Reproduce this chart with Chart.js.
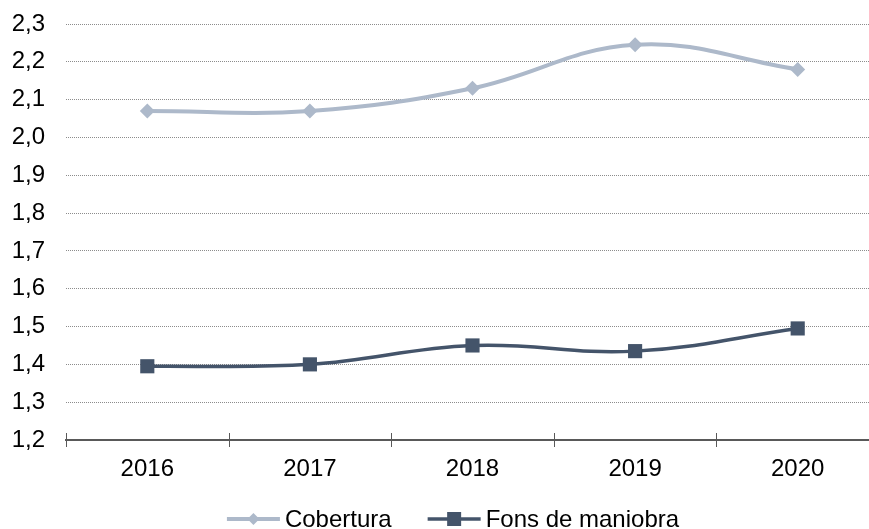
<!DOCTYPE html>
<html>
<head>
<meta charset="utf-8">
<script src="https://cdn.jsdelivr.net/npm/chart.js@4/dist/chart.umd.min.js"></script>
<style>
  html, body { margin:0; padding:0; background:#fff; overflow:hidden; }
  #wrap { position:absolute; left:0; top:0; width:889px; height:540px; }
</style>
</head>
<body>
<div id="wrap"><canvas id="chart"></canvas></div>
<script>
const YEARS = ["2016","2017","2018","2019","2020"];
const COBERTURA = [2.07, 2.07, 2.13, 2.245, 2.18];
const FONS = [1.395, 1.40, 1.45, 1.435, 1.495];
const Y_MIN = 1.2, Y_MAX = 2.3, Y_STEP = 0.1;

const FONT = "'Liberation Sans', Arial, sans-serif";
const FONT_SIZE = 24;
const C_LIGHT = "#ADB9CA";
const C_DARK = "#44546A";

// marcas del eje X que cruzan la línea
const axisTicks = {
  id:'axisTicks',
  afterDraw(chart){
    const x = chart.scales.x, a = chart.chartArea, ctx = chart.ctx;
    ctx.save();
    ctx.strokeStyle = '#595959'; ctx.lineWidth = 1;
    for(let i = 0; i <= YEARS.length; i++){
      let px;
      if(i === 0) px = a.left;
      else if(i === YEARS.length) px = a.right;
      else px = (x.getPixelForValue(i-1) + x.getPixelForValue(i)) / 2;
      px = Math.round(px) + 0.5;
      ctx.beginPath(); ctx.moveTo(px, a.bottom - 7); ctx.lineTo(px, a.bottom + 7); ctx.stroke();
    }
    ctx.restore();
  }
};

// leyenda inferior: línea con marcador + texto
const bottomLegend = {
  id:'bottomLegend',
  afterDraw(chart){
    const ctx = chart.ctx;
    const sw = 53, gap = 5, itemGap = 36, cy = 519, cx = 453;
    ctx.save();
    ctx.font = `${FONT_SIZE}px ${FONT}`;
    const items = chart.data.datasets.map(d => ({ d, tw: ctx.measureText(d.label).width }));
    const total = items.reduce((s,it)=>s + sw + gap + it.tw, 0) + itemGap * (items.length - 1);
    let x = cx - total / 2;
    items.forEach(({d, tw}) => {
      ctx.strokeStyle = d.borderColor; ctx.lineWidth = d.borderWidth;
      ctx.beginPath(); ctx.moveTo(x, cy); ctx.lineTo(x + sw, cy); ctx.stroke();
      ctx.fillStyle = d.borderColor;
      const mx = x + sw / 2;
      ctx.beginPath();
      if(d.pointStyle === 'rectRot'){
        ctx.moveTo(mx, cy - 6); ctx.lineTo(mx + 6, cy); ctx.lineTo(mx, cy + 6); ctx.lineTo(mx - 6, cy);
      } else {
        ctx.rect(mx - 7, cy - 7, 14, 14);
      }
      ctx.fill();
      ctx.fillStyle = '#000'; ctx.textBaseline = 'middle'; ctx.textAlign = 'left';
      ctx.fillText(d.label, x + sw + gap, cy + 1);
      x += sw + gap + tw + itemGap;
    });
    ctx.restore();
  }
};

new Chart(document.getElementById('chart'), {
  type:'line',
  data:{
    labels: YEARS,
    datasets:[
      {
        label:'Cobertura', data: COBERTURA,
        borderColor:C_LIGHT, backgroundColor:C_LIGHT,
        borderWidth:4, tension:0.4,
        pointStyle:'rectRot', pointRadius:7.5, pointHoverRadius:7.5, pointBorderWidth:0
      },
      {
        label:'Fons de maniobra', data: FONS,
        borderColor:C_DARK, backgroundColor:C_DARK,
        borderWidth:3.5, tension:0.4,
        pointStyle:'rect', pointRadius:10, pointHoverRadius:10, pointBorderWidth:0
      }
    ]
  },
  options:{
    responsive:true,
    maintainAspectRatio:false,
    animation:false,
    layout:{ padding:{ left:0, right:2, top:24, bottom:50 } },
    plugins:{
      tooltip:{ enabled:false },
      legend:{ display:false }
    },
    scales:{
      x:{
        offset:true,
        grid:{ display:false },
        border:{ display:true, color:'#595959', width:2 },
        ticks:{ color:'#000', font:{ family:FONT, size:FONT_SIZE }, padding:7 },
        afterFit:(s)=>{ s.height = 50; }
      },
      y:{
        min:Y_MIN, max:Y_MAX,
        grid:{ color:'#8c8c8c', lineWidth:1, drawTicks:false },
        border:{ display:false, dash:[1,1] },
        ticks:{
          stepSize:Y_STEP, padding:21, color:'#000',
          font:{ family:FONT, size:FONT_SIZE },
          callback:(v)=> v.toFixed(1).replace('.',',')
        },
        afterFit:(s)=>{ s.width = 66; s.paddingTop = 0; s.paddingBottom = 0; }
      }
    }
  },
  plugins:[axisTicks, bottomLegend]
});
</script>
</body>
</html>
